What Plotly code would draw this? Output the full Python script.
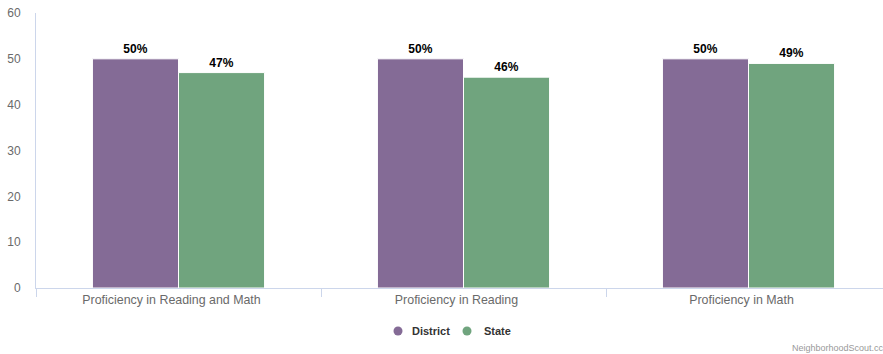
import plotly.graph_objects as go

categories = ["Proficiency in Reading and Math", "Proficiency in Reading", "Proficiency in Math"]
district = [50, 50, 50]
state = [47, 46, 49]
series_names = ["District", "State"]
colors = ["#846b96", "#70a47e"]

W, H = 883, 354
ML, MR, MT, MB = 36, 0, 13, 66
plot_w = W - ML - MR
plot_h = H - MT - MB
cat_px = 285.0  # pixel width of one category slot

fig = go.Figure()
for name, vals, col in zip(series_names, [district, state], colors):
    fig.add_trace(go.Bar(
        x=categories, y=vals, name=name,
        marker=dict(color=col, line=dict(color="#ffffff", width=1)),
        text=[f"<b>{v}%</b>" for v in vals], textposition="outside",
        textfont=dict(family="Liberation Sans, Arial, sans-serif", size=12, color="#000000"),
        cliponaxis=False, showlegend=False, hoverinfo="skip",
    ))

# legend drawn as dots + bold labels below the plot
def px_x(px):
    return (px - ML) / plot_w

def px_y(py):
    return (H - MB - py) / plot_h

legend_items = [(398, 410), (467, 482)]
shapes = []
annotations = []
for (cx, tx), name, col in zip(legend_items, series_names, colors):
    r = 4.5
    shapes.append(dict(type="circle", xref="paper", yref="paper",
                       x0=px_x(cx - r), x1=px_x(cx + r), y0=px_y(331 + r), y1=px_y(331 - r),
                       fillcolor=col, line=dict(width=0)))
    annotations.append(dict(text=f"<b>{name}</b>", xref="paper", yref="paper",
                            x=px_x(tx), y=px_y(331), xanchor="left", yanchor="middle",
                            showarrow=False,
                            font=dict(size=11, color="#333333")))

annotations.append(dict(text="NeighborhoodScout.cc", xref="paper", yref="paper",
                        x=1.0, y=px_y(348), xanchor="right", yanchor="middle", showarrow=False,
                        xshift=3, font=dict(size=9, color="#999999")))

fig.update_layout(
    width=W, height=H,
    margin=dict(l=ML, r=MR, t=MT, b=MB),
    paper_bgcolor="#ffffff", plot_bgcolor="#ffffff",
    barmode="group", bargap=0.396, bargroupgap=0,
    font=dict(family="Liberation Sans, Arial, sans-serif", size=12, color="#666666"),
    showlegend=False,
    xaxis=dict(range=[-0.5, -0.5 + plot_w / cat_px],
               showgrid=False, showline=True, linecolor="#ccd6eb", linewidth=1,
               ticks="outside", tickson="boundaries", ticklen=8, tickcolor="#ccd6eb",
               ticklabelshift=-7,
               tickfont=dict(size=12.4, color="#6a6a6a"), fixedrange=True),
    yaxis=dict(range=[0, 60], dtick=10, showgrid=False, zeroline=False,
               showline=True, linecolor="#ccd6eb", linewidth=1, ticks="",
               ticklabelstandoff=12,
               tickfont=dict(size=12, color="#6a6a6a"), fixedrange=True),
    shapes=shapes,
    annotations=annotations,
)

fig.write_html("out.html")
